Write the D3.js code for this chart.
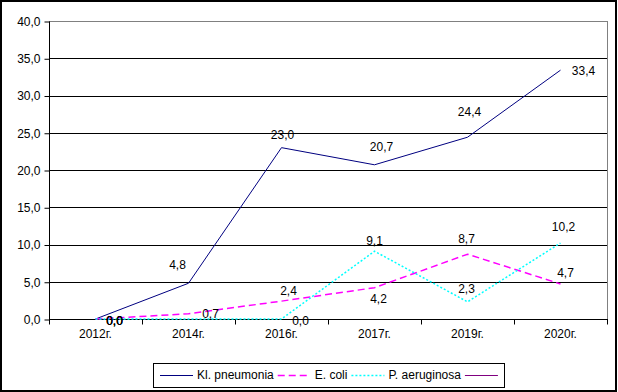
<!DOCTYPE html>
<html><head><meta charset="utf-8">
<script src="https://cdn.jsdelivr.net/npm/d3@7"></script>
<style>
html,body{margin:0;padding:0;background:#fff;}
text{font-family:Arial,"Liberation Sans",sans-serif;font-size:12px;fill:#000;}
</style></head>
<body><svg id="c" width="618" height="392"></svg>
<script>
const categories = ["2012г.","2014г.","2016г.","2017г.","2019г.","2020г."];
const klValues = [0.0, 4.8, 23.0, 20.7, 24.4, 33.4];
const ecoliValues = [0.0, 0.7, 2.4, 4.2, 8.7, 4.7];
const paerValues = [0.0, 0.0, 0.0, 9.1, 2.3, 10.2];
const yTicks = [0,5,10,15,20,25,30,35,40];
const seriesNames = ["Kl. pneumonia","E. coli","P. aeruginosa",""];

// label placement (dx, dy from point); null = no label shown
const klLabelOff = [[19,2],[-11,-18],[1,-13],[7,-18],[2,-25],[23,1]];
const ecoliLabelOff = [[19,1.5],[22,0],[7,-10],[4,11],[-1,-15],[5,-11]];
const paerLabelOff = [[19,2],null,[19,2],[0,-10],[-1,-13],[3,-16]];

const series = [
  {name:seriesNames[0], values:klValues, off:klLabelOff, color:"#000080", dash:null, width:1},
  {name:seriesNames[1], values:ecoliValues, off:ecoliLabelOff, color:"#FF00FF", dash:"7,4", width:1.5},
  {name:seriesNames[2], values:paerValues, off:paerLabelOff, color:"#00FFFF", dash:"2,2", width:1.5},
  {name:seriesNames[3], values:[], off:[], color:"#800080", dash:null, width:1}
];

const svg = d3.select("#c");
const L=49, R=607, T=21, B=319;
const x = d3.scaleBand().domain(categories).range([L,R]);
const y = d3.scaleLinear().domain([0,40]).range([B,T]);
const fmt = v => d3.format(".1f")(v).replace(".",",");

svg.append("rect").attr("x",1).attr("y",1).attr("width",615).attr("height",390)
  .attr("fill","#fff").attr("stroke","#000").attr("stroke-width",2);

// plot area border (gray)
svg.append("rect").attr("x",L+0.5).attr("y",T+0.5).attr("width",R-L).attr("height",B-T)
  .attr("fill","none").attr("stroke","#808080").attr("stroke-width",1);

// gridlines
svg.append("g").selectAll("line").data(yTicks.filter(t=>t>0 && t<40)).join("line")
  .attr("x1",L).attr("x2",R).attr("y1",d=>Math.round(y(d))+0.5).attr("y2",d=>Math.round(y(d))+0.5)
  .attr("stroke","#000").attr("stroke-width",1);

// y axis
const yAxis = d3.axisLeft(y).tickValues(yTicks).tickFormat(fmt).tickSize(5).tickPadding(4);
const gy = svg.append("g").attr("transform",`translate(${L+0.5},0.5)`).call(yAxis);
gy.select(".domain").attr("stroke","#000").attr("d",`M0,${T}V${B}`);
gy.selectAll(".tick line").attr("stroke","#000");
gy.selectAll("text").style("font-family","Arial, 'Liberation Sans', sans-serif").style("font-size","12px").attr("fill","#000");

// x axis
const gx = svg.append("g").attr("transform",`translate(0,${B+0.5})`);
gx.append("line").attr("x1",L).attr("x2",R+1).attr("y1",0).attr("y2",0).attr("stroke","#000");
const edges = categories.map(c=>x(c)).concat([R]);
gx.selectAll("line.tk").data(edges).join("line").attr("class","tk")
  .attr("x1",d=>Math.round(d)+0.5).attr("x2",d=>Math.round(d)+0.5).attr("y1",0).attr("y2",5).attr("stroke","#000");
gx.selectAll("text").data(categories).join("text")
  .attr("x",d=>x(d)+x.bandwidth()/2).attr("y",18).attr("text-anchor","middle").text(d=>d);

// lines
const cx = i => x(categories[i]) + x.bandwidth()/2;
const line = d3.line().x((d,i)=>cx(i)).y(d=>y(d));
series.filter(s=>s.values.length).forEach(s=>{
  svg.append("path").attr("d",line(s.values)).attr("fill","none")
    .attr("stroke",s.color).attr("stroke-width",s.width)
    .attr("stroke-dasharray",s.dash);
});

// labels
series.filter(s=>s.values.length).forEach(s=>{
  s.values.forEach((v,i)=>{
    const o = s.off[i]; if(!o) return;
    svg.append("text").attr("x",cx(i)+o[0]).attr("y",y(v)+o[1])
      .attr("text-anchor","middle").attr("dominant-baseline","central").text(fmt(v));
  });
});

// legend
const lg = svg.append("g");
lg.append("rect").attr("x",153.5).attr("y",363.5).attr("width",351).attr("height",24)
  .attr("fill","#fff").attr("stroke","#000");
let lx = 160;
series.forEach(s=>{
  lg.append("line").attr("x1",lx).attr("x2",lx+33).attr("y1",375.5).attr("y2",375.5)
    .attr("stroke",s.color).attr("stroke-width",s.width).attr("stroke-dasharray",s.dash);
  lx += 37;
  if(s.name){
    const t = lg.append("text").attr("x",lx).attr("y",375).attr("dominant-baseline","central").text(s.name);
    lx += t.node().getComputedTextLength() + 4;
  }
});
</script></body></html>
